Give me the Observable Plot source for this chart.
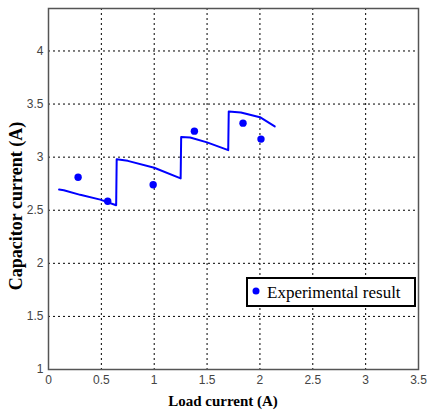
<!DOCTYPE html>
<html><head><meta charset="utf-8">
<script src="https://cdn.jsdelivr.net/npm/d3@7"></script>
<script src="https://cdn.jsdelivr.net/npm/@observablehq/plot@0.6"></script>
<style>body{margin:0;background:#fff}#c{position:relative;width:427px;height:410px}</style>
</head><body><div id="c"></div>
<script>
const lineX = [0.10, 0.145, 0.30, 0.49, 0.64, 0.645, 0.75, 1.0, 1.25, 1.255, 1.34, 1.5, 1.70, 1.705, 1.82, 2.0, 2.14];
const lineY = [2.695, 2.689, 2.645, 2.60, 2.547, 2.98, 2.965, 2.90, 2.80, 3.19, 3.185, 3.139, 3.066, 3.43, 3.42, 3.376, 3.29];
const expX = [0.28, 0.56, 0.99, 1.38, 1.84, 2.01];
const expY = [2.81, 2.585, 2.74, 3.245, 3.32, 3.17];
const xTicks = [0, 0.5, 1, 1.5, 2, 2.5, 3, 3.5];
const yTicks = [1, 1.5, 2, 2.5, 3, 3.5, 4];
const xLabel = "Load current (A)";
const yLabel = "Capacitor current (A)";
const legendLabel = "Experimental result";

const lineData = lineX.map((x, i) => ({x, y: lineY[i]}));
const expData = expX.map((x, i) => ({x, y: expY[i]}));
const fmt = d => String(d);

const chart = Plot.plot({
  width: 427, height: 410,
  marginLeft: 48, marginRight: 9, marginTop: 8, marginBottom: 41,
  x: {domain: [0, 3.5]},
  y: {domain: [1, 4.4]},
  style: {background: "#fff"},
  marks: [
    Plot.gridX(xTicks.slice(1, -1), {stroke: "#000", strokeOpacity: 1, strokeDasharray: "2,3", strokeWidth: 1}),
    Plot.gridY(yTicks.slice(1), {stroke: "#000", strokeOpacity: 1, strokeDasharray: "2,3", strokeWidth: 1}),
    Plot.axisX(xTicks, {tickSize: 0, tickPadding: 6, tickFormat: fmt, fontSize: 12, fontFamily: "Liberation Sans", fill: "#444", label: null}),
    Plot.axisY(yTicks, {tickSize: 0, tickPadding: 5, tickFormat: fmt, fontSize: 12, fontFamily: "Liberation Sans", fill: "#444", label: null}),
    Plot.line(lineData, {x: "x", y: "y", stroke: "#0000ff", strokeWidth: 2}),
    Plot.dot(expData, {x: "x", y: "y", fill: "#0000ff", r: 3.7}),
    Plot.frame({stroke: "#555", strokeWidth: 1.5})
  ]
});
document.getElementById("c").appendChild(chart);

const svg = d3.select(chart);
// axis titles
svg.append("text").attr("transform", "translate(223,406)")
  .style("font-family", "'Liberation Serif', serif").style("font-weight", "bold").style("font-size", "15px")
  .attr("text-anchor", "middle").attr("fill", "#000").text(xLabel);
svg.append("text").attr("transform", "translate(22,206) rotate(-90)")
  .style("font-family", "'Liberation Serif', serif").style("font-weight", "bold").style("font-size", "18px")
  .attr("text-anchor", "middle").attr("fill", "#000").text(yLabel);

// legend box inside the plot
const g = svg.append("g").attr("transform", "translate(247,278)");
g.append("rect").attr("width", 168).attr("height", 28).attr("fill", "#fff").attr("stroke", "#000").attr("stroke-width", 2);
g.append("circle").attr("cx", 9).attr("cy", 13).attr("r", 3.5).attr("fill", "#0000ff");
g.append("text").attr("x", 20).attr("y", 20).attr("text-anchor", "start")
  .style("font-family", "'Liberation Serif', serif").style("font-size", "17px")
  .attr("fill", "#000").text(legendLabel);
</script></body></html>
